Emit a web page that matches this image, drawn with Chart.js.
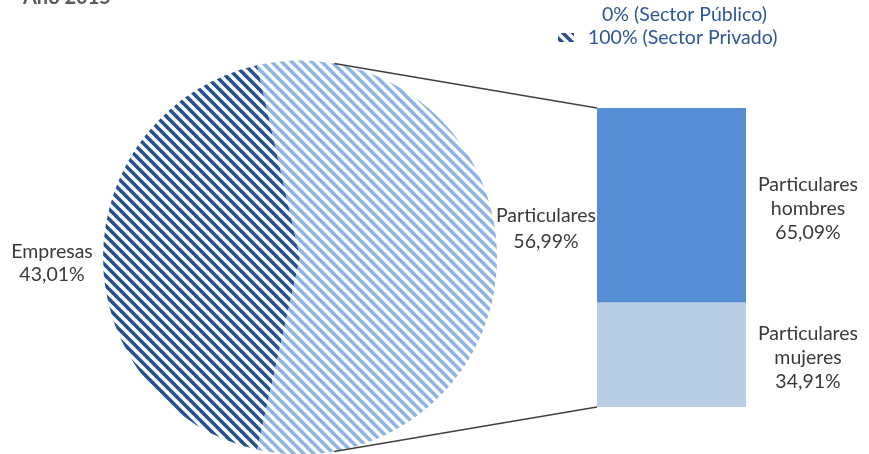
<!DOCTYPE html>
<html><head><meta charset="utf-8">
<script src="https://cdn.jsdelivr.net/npm/chart.js@4.4.0/dist/chart.umd.min.js"></script>
<style>
html,body{margin:0;padding:0;background:#fff;}
#wrap{position:relative;width:869px;height:454px;overflow:hidden;background:#fff;}
canvas{position:absolute;left:0;top:0;}
</style></head><body>
<div id="wrap"><canvas id="pie" width="869" height="454"></canvas><canvas id="bar" width="869" height="454"></canvas></div>
<script>
const titleText = 'Año 2015';
const pieLabels = ['Empresas', 'Particulares'];
const pieValues = [43.01, 56.99];
const barLabels = ['Particulares mujeres', 'Particulares hombres'];
const barValues = [34.91, 65.09];
const legendLabels = ['0% (Sector Público)', '100% (Sector Privado)'];

const FONT = 'Lato, "Open Sans", sans-serif';
const FS = '19.5px ';
const TXT = '#3a3a3a';
const fmt = v => v.toFixed(2).replace('.', ',') + '%';

function stripe(color, size, lw) {
  const c = document.createElement('canvas');
  c.width = size; c.height = size;
  const x = c.getContext('2d');
  x.strokeStyle = color; x.lineWidth = lw;
  for (const o of [-size, 0, size]) {
    x.beginPath(); x.moveTo(o - 2, -2); x.lineTo(o + size + 2, size + 2); x.stroke();
  }
  return x.createPattern(c, 'repeat');
}
const darkPat = stripe('#24508c', 10, 3.6);
const lightPat = stripe('#8eb4e3', 10, 3.6);

const total = pieValues.reduce((a, b) => a + b, 0);
const degE = pieValues[0] / total * 360;
const degP = pieValues[1] / total * 360;
const rot = 90 - degP / 2 - degE;

const pieText = {
  id: 'pieText',
  afterDraw(chart) {
    const ctx = chart.ctx;
    const arc = chart.getDatasetMeta(0).data[0];
    const cx = arc.x, cy = arc.y, r = arc.outerRadius;
    ctx.save();
    ctx.fillStyle = TXT;
    ctx.font = FS + FONT;
    ctx.textAlign = 'center';
    ctx.textBaseline = 'middle';
    ctx.fillText(pieLabels[0], cx - r - 51, cy - 6);
    ctx.fillText(fmt(pieValues[0]), cx - r - 51, cy + 17);
    ctx.fillText(pieLabels[1], cx + r + 49, cy - 42);
    ctx.fillText(fmt(pieValues[1]), cx + r + 49, cy - 16);
    // title (cut at top)
    ctx.textAlign = 'left';
    ctx.textBaseline = 'alphabetic';
    ctx.fillStyle = '#595959';
    ctx.font = 'bold 20px ' + FONT;
    ctx.fillText(titleText, 23, 4);
    // legend
    ctx.fillStyle = '#2f5597';
    ctx.font = FS + FONT;
    ctx.textBaseline = 'middle';
    ctx.textAlign = 'left';
    ctx.fillText(legendLabels[0], 602, 15);
    ctx.fillText(legendLabels[1], 588, 38);
    ctx.fillStyle = darkPat;
    ctx.fillRect(558, 33, 16, 9);
    ctx.restore();
  }
};

const pie = new Chart(document.getElementById('pie'), {
  type: 'pie',
  data: {
    labels: pieLabels,
    datasets: [{ data: pieValues, backgroundColor: [darkPat, lightPat], borderWidth: 0 }]
  },
  options: {
    responsive: false, animation: false, devicePixelRatio: 1,
    rotation: rot, radius: 197,
    layout: { padding: { left: 103, right: 372, top: 61, bottom: 0 } },
    plugins: { legend: { display: false }, tooltip: { enabled: false } }
  },
  plugins: [pieText]
});

const barColors = ['#b9cde5', '#558ed5'];
const barText = {
  id: 'barText',
  afterDraw(chart) {
    const ctx = chart.ctx;
    ctx.save();
    ctx.fillStyle = TXT;
    ctx.font = FS + FONT;
    ctx.textAlign = 'center';
    ctx.textBaseline = 'middle';
    let topEl = null, botEl = null;
    chart.data.datasets.forEach((ds, i) => {
      const el = chart.getDatasetMeta(i).data[0];
      const cy = (el.y + el.base) / 2;
      const x = el.x + el.width / 2 + 62;
      const parts = barLabels[i].split(' ');
      ctx.fillText(parts[0], x, cy - 21);
      ctx.fillText(parts[1], x, cy + 3);
      ctx.fillText(fmt(barValues[i]), x, cy + 27);
      if (i === 0) botEl = el;
      if (i === chart.data.datasets.length - 1) topEl = el;
    });
    // connectors
    const arc = pie.getDatasetMeta(0).data[0];
    const cx = arc.x, cyP = arc.y, r = arc.outerRadius;
    const a = 80 * Math.PI / 180;
    const left = topEl.x - topEl.width / 2;
    ctx.strokeStyle = '#404040';
    ctx.lineWidth = 1.5;
    ctx.beginPath();
    ctx.moveTo(cx + r * Math.cos(a), cyP - r * Math.sin(a));
    ctx.lineTo(left, topEl.y);
    ctx.moveTo(cx + r * Math.cos(a), cyP + r * Math.sin(a));
    ctx.lineTo(left, botEl.base);
    ctx.stroke();
    ctx.restore();
  }
};

new Chart(document.getElementById('bar'), {
  type: 'bar',
  data: {
    labels: [''],
    datasets: barLabels.map((l, i) => ({
      label: l, data: [barValues[i]], backgroundColor: barColors[i],
      borderWidth: 0, barPercentage: 1, categoryPercentage: 1
    }))
  },
  options: {
    responsive: false, animation: false, devicePixelRatio: 1,
    layout: { padding: { left: 597, right: 123, top: 108, bottom: 47 } },
    scales: {
      x: { display: false, stacked: true },
      y: { display: false, stacked: true, min: 0, max: 100 }
    },
    plugins: { legend: { display: false }, tooltip: { enabled: false } }
  },
  plugins: [barText]
});
</script>
</body></html>
